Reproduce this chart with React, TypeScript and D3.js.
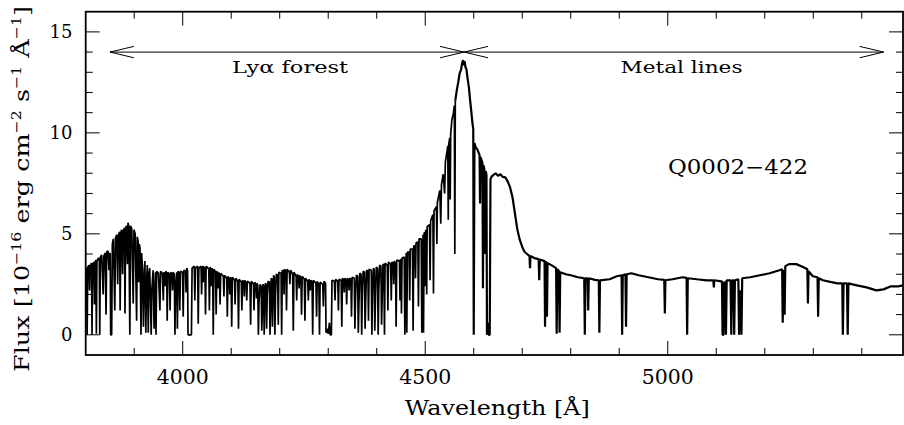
import React from 'react';
import * as d3 from 'd3';

type Pt = [number, number];

// Axis ticks
const xMajorTicks = [4000, 4500, 5000];
const xMinorTicks = [3900, 4100, 4200, 4300, 4400, 4600, 4700, 4800, 4900, 5100, 5200, 5300, 5400];
const yMajorTicks = [0, 5, 10, 15];
const yMinorTicks = [1, 2, 3, 4, 6, 7, 8, 9, 11, 12, 13, 14];

// Region arrows (wavelength start/end) and their height in flux units
const lyaRange = [3850, 4580];
const metalRange = [4580, 5445];
const arrowFlux = 14;

// Spectrum: [wavelength (Å), flux (1e-16 erg/cm2/s/Å)]
const spectrumBlueForest: Pt[] = [
  [3800,3.3],[3801.8,3.25],[3803,0],[3804.2,3.35],[3807,3.45],[3808,2.2],[3809,3.4],[3812,3.55],[3813,0],[3814.2,3.5],
  [3817,3.6],[3818,1.5],[3819,3.55],[3821,3.7],[3822,0.05],[3823.2,3.65],[3826,3.8],[3828,3.75],[3829,0],[3830.2,3.85],
  [3833,3.95],[3836,2.0],[3837.5,3.9],[3840,4.05],[3842,1.0],[3843.2,4.1],[3846,4.15],[3848,3.2],[3849,4.05],[3850.5,4.0],
  [3851.5,0],[3853.5,0],[3855,4.5],[3857,4.75],[3860,1.2],[3861.5,4.8],[3864,4.95],[3866,2.5],[3867.5,4.95],[3870,5.1],
  [3871,1.2],[3872.3,5.05],[3874,5.2],[3876,3.0],[3877.5,5.15],[3880,5.3],[3881,1.05],[3882.3,5.25],[3884,5.4],[3886,3.5],
  [3887.2,5.55],[3889,5.35],[3891,0],[3892.5,5.4],[3895,5.25],[3898,1.55],[3899.5,5.2],[3902,5.0],[3905,0.7],[3906.3,4.85],
  [3908,4.65],[3909,2.6],[3910.3,4.5],[3912,4.3],[3914,0],[3915.3,4.05],[3917,3.3],[3919,0.4],[3920.3,2.8],[3922,3.65],
  [3924,0.1],[3925.3,2.5],[3927,3.45],[3929,0.1],[3930.3,3.0],[3932,3.3],[3935,0],[3936.3,2.2],[3939,3.2],[3941,0.3],
  [3942.3,2.0],[3943.8,3.1],[3945,0],[3946.3,3.15],[3950,3.05],[3953,1.2],[3954.3,3.15],[3958,3.05],[3960,1.7],[3961.3,3.1],
  [3963,3.0],[3964,2.4],[3965.2,3.15],[3967,3.05],[3968,0.7],[3969.3,3.1],[3972.5,3.0],[3974,1.2],[3975.3,3.1],[3978,3.0],
  [3979,2.2],[3980.2,3.1],[3982.7,3.0],[3984,0],[3985.3,2.4],[3987.8,3.1],[3989,0.3],[3990.3,3.15],[3992.7,3.05],[3994,1.2],
  [3995.3,3.15],[3999.7,3.1],[4001,0.9],[4002.3,3.2],[4005.8,3.15],[4007,2.1],[4008.2,3.3],[4010,3.2],[4011,0],[4018,0],
  [4019.3,3.3],[4023.8,3.4],[4025,1.7],[4026.3,3.3],[4030.8,3.4],[4032,0.55],[4033.3,3.3],[4037.8,3.4],[4039,2.0],[4040.2,3.3],
  [4042,3.4],[4043,2.6],[4044,3.3],[4045.8,3.35],[4047,1.0],[4048.3,3.4],[4053.8,3.25],[4055,1.2],[4056.3,3.35],[4058,3.25],
  [4059,2.4],[4060,3.3],[4061.7,3.2],[4063,0],[4064.3,3.25],[4067.8,3.1],[4069,1.0],[4070.3,3.15],[4072,3.05],[4073,2.3],
  [4074,3.1],[4075.8,2.95],[4077,1.5],[4078.3,3.05],[4083.8,2.9],[4085,1.9],[4086.2,2.95],[4090.8,2.8],[4092,0.9],[4093.3,2.9],
  [4096,2.75],[4097,2.0],[4098,2.85],[4099.8,2.75],[4101,0.4],[4102.3,2.85],[4106.8,2.7],[4108,1.5],[4109.3,2.8],[4113.7,2.65],
  [4115,0.3],[4116.3,2.75],[4120.8,2.6],[4122,1.2],[4123.3,2.7],[4126,2.6],[4127,1.9],[4128,2.7],[4130.8,2.55],[4132,1.7],
  [4133.3,2.65],[4138.7,2.55],[4140,0.5],[4141.3,2.65],[4145.8,2.5],[4147,1.2],[4148.3,2.6],[4151,2.5],[4152,1.8],[4153,2.55],
  [4154.8,2.45],[4156,0],[4157.3,1.6],[4159.5,2.5],[4161.8,2.4],[4163,0.2],[4164.3,1.2],[4165.5,2.5],[4166.8,2.45],[4168,0],
  [4169.3,1.8],[4170.5,2.55],[4171.8,2.5],[4173,0.3],[4174.3,2.0],[4176,2.65],[4178.8,2.6],[4180,0],[4181.3,1.5],[4182.5,2.8],
  [4183.8,2.75],[4185,0.4],[4186.3,2.2],[4187.5,2.95],[4188.8,2.85],[4190,0],[4191.3,1.9],[4193,3.0],[4195.8,2.95],[4197,0.5],
  [4198.3,3.1],[4202.8,3.05],[4204,0],
];

const spectrumRedForest: Pt[] = [
  [4205.3,3.2],[4208,3.15],[4209,2.0],[4210,3.25],[4212.8,3.15],[4214,1.2],[4215.3,3.25],[4219.8,3.1],[4221,2.5],[4222.2,3.2],
  [4226.7,3.0],[4228,0.2],[4229.3,3.1],[4233.8,2.9],[4235,1.7],[4236.3,3.0],[4239,2.85],[4240,2.3],[4241,2.95],[4243.8,2.8],
  [4245,1.0],[4246.3,2.9],[4250.7,2.75],[4252,0.7],[4253.3,2.8],[4257.8,2.65],[4259,1.7],[4260.3,2.75],[4262,2.65],[4263,2.2],
  [4264,2.7],[4266.7,2.6],[4268,0],[4269.3,2.7],[4274.7,2.55],[4276,0.9],[4277.3,2.65],[4280.7,2.5],[4282,0],[4283.3,2.6],
  [4288.8,2.5],[4290,1.4],[4291.3,2.65],[4294.5,2.55],[4295.5,0.1],[4298,0.3],[4300,0.05],[4302.5,0.6],[4304,0],[4306.5,0],
  [4307.8,2.7],[4312.7,2.65],[4314,1.7],[4315.3,2.75],[4319.8,2.65],[4321,1.2],[4322.3,2.75],[4326.7,2.7],[4328,0.4],[4329.3,2.8],
  [4332,2.7],[4333,2.1],[4334,2.8],[4336.8,2.7],[4338,1.5],[4339.3,2.8],[4342,2.7],[4343,2.2],[4344,2.8],[4346.7,2.75],
  [4348,0.9],[4349.3,2.85],[4353.7,2.8],[4355,0.3],[4356.3,1.8],[4358,2.95],[4360.7,2.9],[4362,0.1],[4363.3,1.5],[4365,3.05],
  [4367.7,3.0],[4369,0],[4370.3,2.0],[4372,3.15],[4374.7,3.1],[4376,0.3],[4377.3,1.7],[4379,3.2],[4381.8,3.15],[4383,0.7],
  [4384.3,3.25],[4388.7,3.2],[4390,0],[4391.3,2.1],[4393,3.3],[4394.7,3.25],[4396,0.2],[4397.3,1.6],[4399,3.35],[4401.7,3.3],
  [4403,0],[4404.3,2.2],[4406,3.45],[4408.7,3.4],[4410,0.5],[4411.3,1.9],[4413,3.5],[4414.7,3.45],[4416,0],[4417.3,3.55],
  [4421.7,3.45],[4423,1.2],[4424.3,3.6],[4428.7,3.5],[4430,1.7],[4431.3,3.6],[4434,3.55],[4435,2.5],[4436,3.65],[4438.7,3.55],
  [4440,0.4],[4441.3,3.7],[4446.8,3.65],[4448,1.7],[4449,3.75],[4450,3.65],[4451,1.05],[4452.2,3.8],[4456.7,3.85],[4458,0],
  [4459.3,3.0],[4460.8,4.05],[4462,0.1],[4463.3,4.1],[4466.8,4.1],[4468,1.7],[4469.2,4.25],[4473.7,4.25],[4475,0.2],[4476.3,4.4],
  [4479,4.4],[4480,2.8],[4481,4.55],[4484.8,4.6],[4486,1.4],[4487.2,4.75],[4491.7,4.75],[4493,0.1],[4494.3,3.5],[4495.5,4.95],
  [4496.5,0.1],[4497.7,5.05],[4499,5.05],[4500,2.4],[4501,5.2],[4502,5.15],[4503,2.0],[4504,5.35],[4508.8,5.45],[4510,2.7],
  [4511.2,5.65],[4515.8,5.95],[4517,2.05],[4518.2,6.15],[4523,6.35],[4524,4.5],[4525,6.55],[4530,7.15],[4532,5.5],[4533.5,7.45],
  [4537,7.95],[4540,7.0],[4541.5,8.55],[4544,8.95],[4546.5,9.35],[4547.5,5.7],[4548.5,9.45],[4550.5,9.75],[4551.5,6.7],[4552.5,9.95],
  [4555,10.65],[4558,10.95],[4560,11.35],[4561,4.0],[4562,11.6],
];

const spectrumPeak: Pt[] = [
  [4562,11.6],[4565,12.1],[4568,12.5],[4571,12.95],[4574,13.15],[4576,13.45],[4578,13.6],[4579.5,13.35],[4581,13.55],[4583,13.25],
  [4585,13.15],[4587,12.75],[4590,12.25],[4592,11.75],[4595,11.05],[4597.5,10.45],[4599,10.2],[4600,0],[4601.5,9.5],[4604,9.3],
  [4608,9.15],[4612,8.9],[4613,6.5],[4614,8.8],[4618,8.5],[4619,2.3],[4620,8.4],[4622,8.2],[4623.5,4.0],[4625,8.1],
  [4626.3,7.9],[4627.3,0],[4629,0.6],[4631,0],[4633,0],[4634.5,7.7],[4637,7.85],[4640,7.9],[4645,8.0],[4650,7.88],
  [4655,7.95],[4660,7.82],[4665,7.8],[4670,7.6],[4675,7.3],[4680,6.8],[4685,6.0],[4690,5.2],[4695,4.7],[4700,4.35],
  [4705,4.1],
];

const spectrumMetal: Pt[] = [
  [4705,4.1],[4710,4.0],[4715,3.9],[4716,3.3],[4717,3.9],[4725,3.8],[4733.8,3.75],[4735,2.7],[4736.2,3.72],[4740,3.7],[4746,3.65],
  [4747,0.4],[4748.5,3.6],[4750,3.6],[4751,0.9],[4752.2,3.55],[4760,3.45],[4769.8,3.3],[4771,0.05],[4772.5,3.25],[4775.8,3.15],
  [4777,0.1],[4778.3,3.1],[4790,3.0],[4800,2.95],[4815,2.85],[4827.8,2.8],[4829,0],[4830.3,2.8],[4834.8,2.8],[4836,1.2],
  [4837.2,2.8],[4850,2.72],[4857.8,2.7],[4859,0.1],[4860.3,2.7],[4880,2.75],[4895,2.9],[4904.8,2.95],[4906,0],[4907.3,2.95],
  [4912.8,3.0],[4914,0.4],[4915.3,3.0],[4925,3.05],[4940,2.95],[4960,2.85],[4980,2.75],[4992.8,2.72],[4994,1.05],[4995.2,2.7],
  [5010,2.75],[5030,2.85],[5038.8,2.82],[5040,0],[5041.3,2.8],[5060,2.75],[5080,2.7],[5094,2.7],[5095,2.35],[5096,2.7],
  [5110,2.65],[5111.8,2.65],[5113,0],[5115,0],[5116.5,2.6],[5118.5,2.6],[5120,0],[5121.5,2.7],[5129.5,2.7],[5131,0],
  [5132.5,2.7],[5135.5,2.7],[5137,0],[5138.5,2.7],[5145.5,2.75],[5147,0],[5148.5,1.8],[5150.5,2.2],[5152,0],[5153.5,2.8],
  [5170,2.85],[5190,2.95],[5210,3.05],[5230,3.2],[5235.8,3.25],[5237,0.6],[5238.5,3.1],[5240,3.2],[5241,1.0],[5242.3,3.4],
  [5250,3.5],[5265,3.5],[5280,3.35],[5287.8,3.25],[5289,1.55],[5290.3,3.15],[5299,2.9],[5308.8,2.85],[5310,0.9],[5311.3,2.8],
  [5320,2.7],[5335,2.62],[5350,2.55],[5359.8,2.55],[5361,0],[5362.5,2.55],[5369.5,2.55],[5371,0],[5372.5,2.55],[5390,2.45],
  [5410,2.35],[5430,2.2],[5445,2.25],[5460,2.4],[5475,2.4],[5485,2.45],
];

const FONT = "'DejaVu Serif', serif";

export default function App() {
  const W = 904, H = 425;
  const m = { left: 85.7, right: 903, top: 11.7, bottom: 355 };
  const x = d3.scaleLinear().domain([3800, 5485]).range([m.left, m.right]);
  const y = d3.scaleLinear().domain([-1, 16]).range([m.bottom, m.top]);
  const line = d3.line<Pt>().x(d => x(d[0])).y(d => y(d[1]));
  const forest = [...spectrumBlueForest, ...spectrumRedForest];

  const major = 14, minor = 7;
  const ay = y(arrowFlux);
  const headL = 24, headW = 5.7;
  const head = (tx: number, dir: number) =>
    `M${tx - dir * headL},${ay - headW}L${tx},${ay}L${tx - dir * headL},${ay + headW}`;

  return (
    <svg width={W} height={H} style={{ position: 'absolute', left: 0, top: 0, background: '#fff' }}>
      <rect x={0} y={0} width={W} height={H} fill="#fff" />
      {/* spectrum */}
      <path d={line(forest) || ''} fill="none" stroke="#000" strokeWidth={1.7} strokeLinejoin="bevel" />
      <path d={line(spectrumPeak) || ''} fill="none" stroke="#000" strokeWidth={2.2} strokeLinejoin="bevel" />
      <path d={line(spectrumMetal) || ''} fill="none" stroke="#000" strokeWidth={2.2} strokeLinejoin="bevel" />

      {/* ticks */}
      <g stroke="#000" strokeWidth={1}>
        {xMajorTicks.map(t => (
          <g key={'xM' + t}>
            <line x1={x(t)} x2={x(t)} y1={m.bottom} y2={m.bottom - major} />
            <line x1={x(t)} x2={x(t)} y1={m.top} y2={m.top + major} />
          </g>
        ))}
        {xMinorTicks.map(t => (
          <g key={'xm' + t}>
            <line x1={x(t)} x2={x(t)} y1={m.bottom} y2={m.bottom - minor} />
            <line x1={x(t)} x2={x(t)} y1={m.top} y2={m.top + minor} />
          </g>
        ))}
        {yMajorTicks.map(t => (
          <g key={'yM' + t}>
            <line x1={m.left} x2={m.left + major} y1={y(t)} y2={y(t)} />
            <line x1={m.right} x2={m.right - major} y1={y(t)} y2={y(t)} />
          </g>
        ))}
        {yMinorTicks.map(t => (
          <g key={'ym' + t}>
            <line x1={m.left} x2={m.left + minor} y1={y(t)} y2={y(t)} />
            <line x1={m.right} x2={m.right - minor} y1={y(t)} y2={y(t)} />
          </g>
        ))}
      </g>

      {/* frame */}
      <rect x={m.left} y={m.top} width={m.right - m.left} height={m.bottom - m.top}
        fill="none" stroke="#000" strokeWidth={1.8} />

      {/* tick labels */}
      <g fontFamily={FONT} fill="#000">
        {xMajorTicks.map(t => (
          <text key={'xl' + t} x={x(t)} y={383.5} fontSize={20.5} textAnchor="middle"
            textLength={52} lengthAdjust="spacingAndGlyphs">{t}</text>
        ))}
        {yMajorTicks.map(t => (
          <text key={'yl' + t} x={72.5} y={y(t) + 6.5} fontSize={18} textAnchor="end">{t}</text>
        ))}
      </g>

      {/* axis titles */}
      <text x={(m.left + m.right) / 2 + 3} y={415} fontFamily={FONT} fontSize={20.5} textAnchor="middle"
        textLength={185} lengthAdjust="spacingAndGlyphs">Wavelength [Å]</text>
      <text transform="translate(29,189) rotate(-90)" fontFamily={FONT} fontSize={21} textAnchor="middle"
        textLength={366} lengthAdjust="spacingAndGlyphs">
        Flux [10<tspan dy={-8} fontSize={13}>−16</tspan><tspan dy={8}> erg cm</tspan><tspan dy={-8} fontSize={13}>−2</tspan><tspan dy={8}> s</tspan><tspan dy={-8} fontSize={13}>−1</tspan><tspan dy={8}> Å</tspan><tspan dy={-8} fontSize={13}>−1</tspan><tspan dy={8}>]</tspan>
      </text>

      {/* region arrows */}
      <g stroke="#000" strokeWidth={1} fill="none">
        <line x1={x(lyaRange[0])} x2={x(metalRange[1])} y1={ay} y2={ay} />
        <path d={head(x(lyaRange[0]), -1)} />
        <path d={head(x(lyaRange[1]), 1)} />
        <path d={head(x(metalRange[0]), -1)} />
        <path d={head(x(metalRange[1]), 1)} />
      </g>
      <text x={290} y={73.3} fontFamily={FONT} fontSize={16} textAnchor="middle"
        textLength={116} lengthAdjust="spacingAndGlyphs">Lyα forest</text>
      <text x={681.5} y={73.3} fontFamily={FONT} fontSize={16} textAnchor="middle"
        textLength={122} lengthAdjust="spacingAndGlyphs">Metal lines</text>

      <text x={738} y={174} fontFamily={FONT} fontSize={20.5} textAnchor="middle"
        textLength={140} lengthAdjust="spacingAndGlyphs">Q0002−422</text>
    </svg>
  );
}
